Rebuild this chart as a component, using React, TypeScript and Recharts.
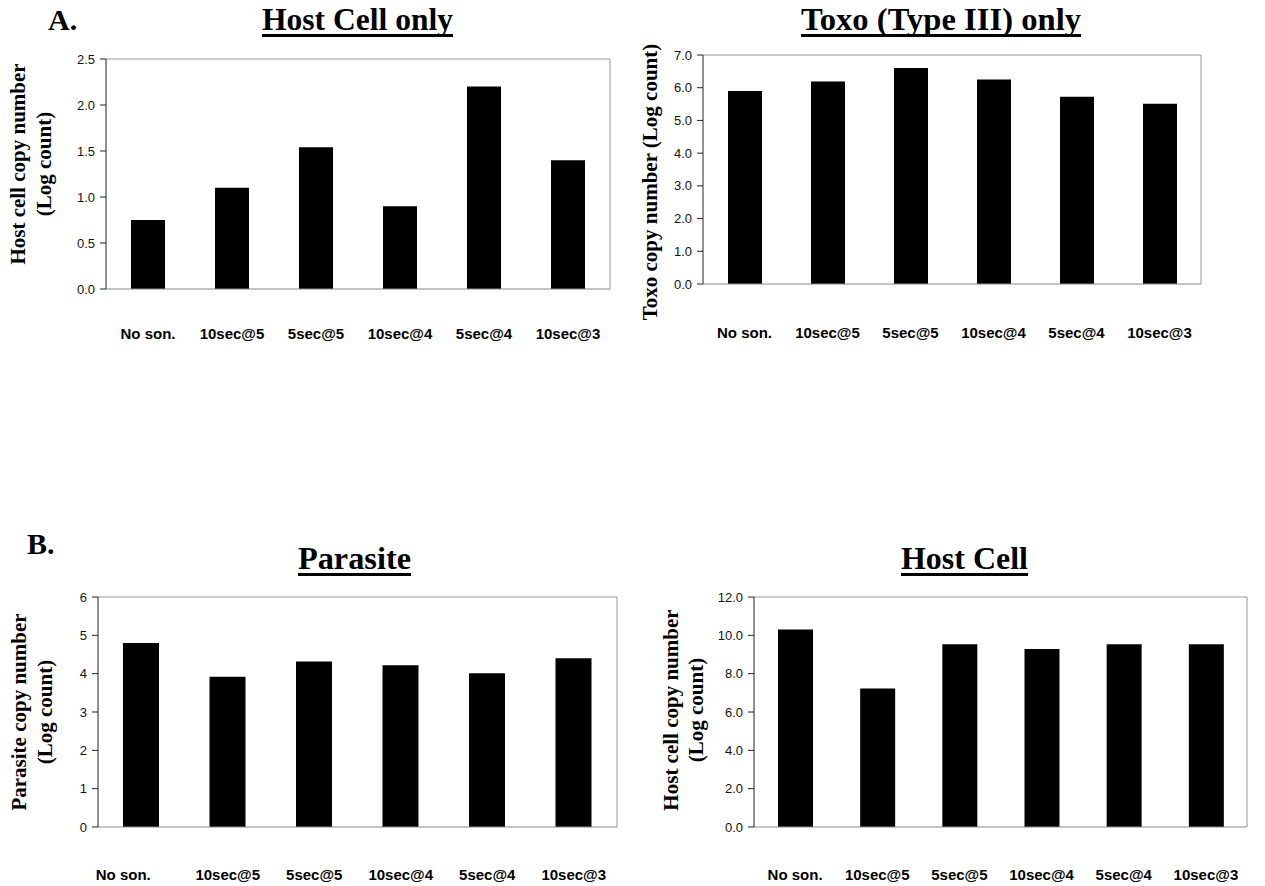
import React from "react";
import { BarChart, Bar, XAxis, YAxis } from "recharts";

const categories = ["No son.", "10sec@5", "5sec@5", "10sec@4", "5sec@4", "10sec@3"];

const hostOnlyValues = [0.75, 1.1, 1.54, 0.9, 2.2, 1.4];
const toxoOnlyValues = [5.9, 6.19, 6.6, 6.25, 5.72, 5.51];
const parasiteValues = [4.8, 3.92, 4.32, 4.22, 4.01, 4.4];
const hostCellValues = [10.31, 7.23, 9.53, 9.29, 9.53, 9.53];

const hostOnlyTicks = [0, 0.5, 1, 1.5, 2, 2.5];
const toxoOnlyTicks = [0, 1, 2, 3, 4, 5, 6, 7];
const parasiteTicks = [0, 1, 2, 3, 4, 5, 6];
const hostCellTicks = [0, 2, 4, 6, 8, 10, 12];

const SANS = "'Liberation Sans', Arial, sans-serif";
const SERIF = "'Liberation Serif', 'Times New Roman', serif";

interface PlotBox {
  left: number;
  right: number;
  top: number;
  bottom: number;
}

interface PanelProps {
  values: number[];
  ticks: number[];
  decimals: number;
  box: PlotBox;
  barSize: number;
  labelOffset: number;
  firstDx?: number;
}

const Y_AXIS_W = 60;

function XTick(props: any) {
  const { x, y, payload, index, labelOffset, firstDx } = props;
  const dx = index === 0 ? firstDx || 0 : 0;
  return (
    <text
      x={x + dx}
      y={y + labelOffset}
      textAnchor="middle"
      fontFamily={SANS}
      fontWeight="bold"
      fontSize={15}
      fill="#000"
    >
      {payload.value}
    </text>
  );
}

function Panel({ values, ticks, decimals, box, barSize, labelOffset, firstDx }: PanelProps) {
  const data = categories.map((name, i) => ({ name, value: values[i] }));
  const max = ticks[ticks.length - 1];
  const width = Y_AXIS_W + (box.right - box.left) + 10;
  const height = 10 + (box.bottom - box.top) + 75;

  return (
    <div
      style={{
        position: "absolute",
        left: box.left - Y_AXIS_W,
        top: box.top - 10,
        width,
        height,
      }}
    >
      <BarChart
        width={width}
        height={height}
        data={data}
        margin={{ top: 9, right: 9, bottom: 5, left: 0 }}
      >
        <XAxis
          xAxisId="top"
          orientation="top"
          dataKey="name"
          height={1}
          tick={false}
          tickLine={false}
          axisLine={{ stroke: "#999" }}
        />
        <YAxis
          yAxisId="right"
          orientation="right"
          width={1}
          domain={[0, max]}
          tick={false}
          tickLine={false}
          axisLine={{ stroke: "#999" }}
        />
        <XAxis
          dataKey="name"
          height={70}
          tickLine={false}
          tickSize={0}
          tickMargin={0}
          interval={0}
          axisLine={{ stroke: "#888" }}
          tick={(p: any) => <XTick {...p} labelOffset={labelOffset} firstDx={firstDx} />}
        />
        <YAxis
          width={Y_AXIS_W}
          domain={[0, max]}
          ticks={ticks}
          interval={0}
          tickSize={6}
          tickMargin={5}
          tickFormatter={(v: number) => v.toFixed(decimals)}
          tick={{ fontSize: 13, fill: "#111", fontFamily: SANS }}
          tickLine={{ stroke: "#222" }}
          axisLine={{ stroke: "#222" }}
        />
        <Bar dataKey="value" fill="#000" barSize={barSize} isAnimationActive={false} />
      </BarChart>
    </div>
  );
}

function Title({ text, x, width, y }: { text: string; x: number; width: number; y: number }) {
  return (
    <g>
      <text
        x={x}
        y={y}
        fontFamily={SERIF}
        fontWeight="bold"
        fontSize={31}
        textLength={width}
        lengthAdjust="spacingAndGlyphs"
        fill="#000"
      >
        {text}
      </text>
      <rect x={x} y={y + 4} width={width} height={3} fill="#000" />
    </g>
  );
}

function YLabel({ lines, xs, cy }: { lines: string[]; xs: number[]; cy: number }) {
  return (
    <g>
      {lines.map((line, i) => (
        <text
          key={line}
          x={xs[i]}
          y={cy}
          transform={`rotate(-90, ${xs[i]}, ${cy})`}
          textAnchor="middle"
          fontFamily={SERIF}
          fontWeight="bold"
          fontSize={21}
          fill="#000"
        >
          {line}
        </text>
      ))}
    </g>
  );
}

export default function App() {
  return (
    <div
      style={{
        position: "absolute",
        left: 0,
        top: 0,
        width: 1265,
        height: 886,
        background: "#fff",
        overflow: "hidden",
      }}
    >
      <Panel
        values={hostOnlyValues}
        ticks={hostOnlyTicks}
        decimals={1}
        box={{ left: 106, right: 610, top: 59, bottom: 289 }}
        barSize={34}
        labelOffset={50}
      />
      <Panel
        values={toxoOnlyValues}
        ticks={toxoOnlyTicks}
        decimals={1}
        box={{ left: 703, right: 1201, top: 55, bottom: 284 }}
        barSize={34}
        labelOffset={54}
      />
      <Panel
        values={parasiteValues}
        ticks={parasiteTicks}
        decimals={0}
        box={{ left: 98, right: 617, top: 597, bottom: 827 }}
        barSize={36}
        labelOffset={53}
        firstDx={-18}
      />
      <Panel
        values={hostCellValues}
        ticks={hostCellTicks}
        decimals={1}
        box={{ left: 754, right: 1247, top: 597, bottom: 827 }}
        barSize={35}
        labelOffset={53}
      />

      <svg
        width={1265}
        height={886}
        style={{ position: "absolute", left: 0, top: 0, pointerEvents: "none" }}
      >
        <text x={48} y={30} fontFamily={SERIF} fontWeight="bold" fontSize={30} fill="#000">
          A.
        </text>
        <text x={27} y={554} fontFamily={SERIF} fontWeight="bold" fontSize={30} fill="#000">
          B.
        </text>

        <Title text="Host Cell only" x={262} width={191} y={30} />
        <Title text="Toxo (Type III) only" x={801} width={280} y={30} />
        <Title text="Parasite" x={298} width={113} y={569} />
        <Title text="Host Cell" x={901} width={127} y={569} />

        <YLabel lines={["Host cell copy number", "(Log count)"]} xs={[25, 51]} cy={164} />
        <YLabel lines={["Toxo copy number (Log count)"]} xs={[657]} cy={182} />
        <YLabel lines={["Parasite copy number", "(Log count)"]} xs={[26, 52]} cy={712} />
        <YLabel lines={["Host cell copy number", "(Log count)"]} xs={[678, 703]} cy={710} />
      </svg>
    </div>
  );
}
